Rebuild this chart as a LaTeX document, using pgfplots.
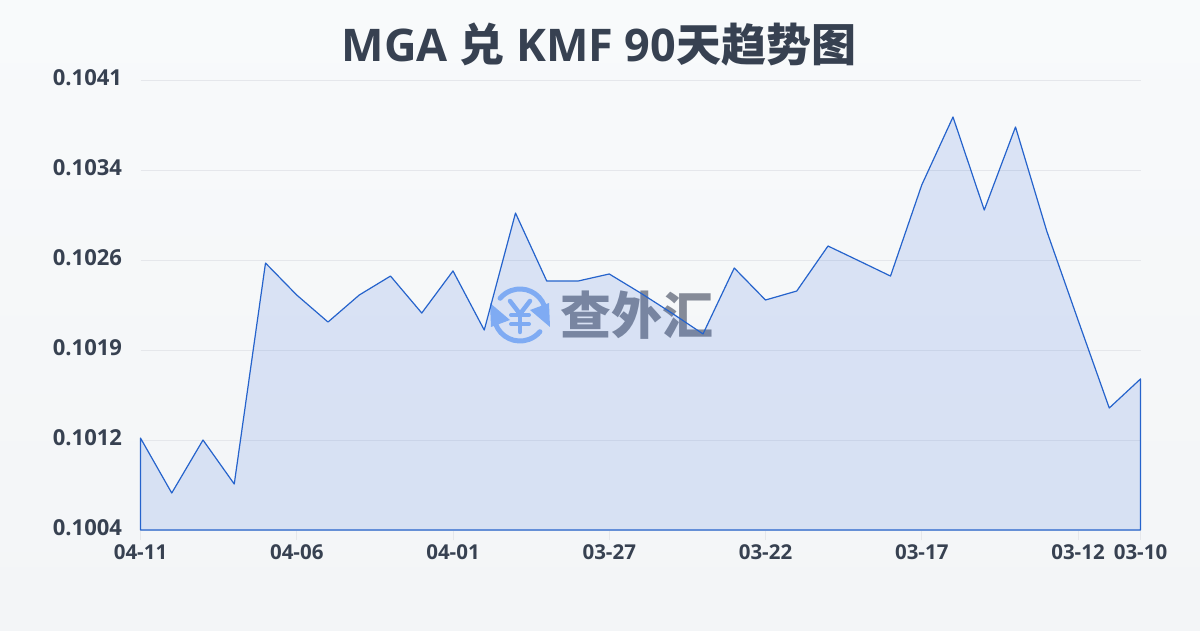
\documentclass[border=0pt]{standalone}
\usepackage{pgfplots}
\pgfplotsset{compat=1.18}
\usepackage{fontspec}
\setmainfont{Open Sans}
\newfontfamily\cjk{Noto Sans CJK SC}
\definecolor{bgtop}{HTML}{F8FAFB}
\definecolor{bgbot}{HTML}{F3F5F7}
\definecolor{ink}{HTML}{374151}
\definecolor{lineblue}{HTML}{2563CC}
\definecolor{fillblue}{HTML}{2A62D8}
\definecolor{gridc}{HTML}{E5E7EB}
\definecolor{wmblue}{HTML}{8DB8F8}
\definecolor{wmgray}{HTML}{858B98}
\begin{document}
\begin{tikzpicture}[x=1pt,y=1pt]
\useasboundingbox (0,0) rectangle (1200,630);
\shade[top color=bgtop,bottom color=bgbot] (0,0) rectangle (1200,630);
\node[text=ink,font=\fontsize{45}{50}\selectfont\bfseries,anchor=center] at (599,585)
  {MGA {\cjk 兑} KMF 90{\cjk 天趋势图}};
% watermark
\draw[wmblue,line width=5pt,line cap=round] (520,315) ++(20:26) arc (20:140:26);
\draw[wmblue,line width=5pt,line cap=round] (520,315) ++(200:26) arc (200:320:26);
\fill[wmblue] (550,303) -- (549,327) -- (530,320) -- cycle;
\fill[wmblue] (490,327) -- (491,303) -- (510,310) -- cycle;
\draw[wmblue,line width=4.5pt,line cap=round] (510,329) -- (520,316) -- (530,329);
\draw[wmblue,line width=4.5pt,line cap=round] (520,316) -- (520,298);
\draw[wmblue,line width=4pt,line cap=round] (511,315) -- (529,315);
\draw[wmblue,line width=4pt,line cap=round] (511,306) -- (529,306);
\node[text=wmgray,font=\cjk\fontsize{51}{52}\selectfont\bfseries,anchor=west,inner sep=0pt] at (560,315) {查外汇};
\begin{axis}[
  at={(140.5pt,100pt)},anchor=south west,
  scale only axis,width=1000pt,height=450pt,
  xmin=0,xmax=32,ymin=0.1004,ymax=0.1041,
  clip=false,
  axis line style={draw=none},
  ymajorgrids,
  grid style={gridc,line width=0.8pt},
  xtick={0,5,10,15,20,25,30,32},
  xticklabels={04-11,04-06,04-01,03-27,03-22,03-17,03-12,03-10},
  ytick={0.1004,0.10114,0.10188,0.10262,0.10336,0.1041},
  yticklabels={0.1004,0.1012,0.1019,0.1026,0.1034,0.1041},
  tick align=outside,
  xtick pos=bottom,
  ytick pos=left,
  major tick length=10pt,
  x tick style={gridc,line width=0.8pt},
  y tick style={draw=none},
  xticklabel style={text=ink,font=\fontsize{20.5}{22}\selectfont\bfseries,yshift=-1.5pt},
  yticklabel style={text=ink,font=\fontsize{22}{24}\selectfont\bfseries,yshift=2pt,xshift=-5pt},
]
\addplot[draw=lineblue,line width=1.2pt,fill=fillblue,fill opacity=0.14,line join=round] coordinates {
(0,0.101156)(1,0.100704)(2,0.101140)(3,0.100778)(4,0.102595)(5,0.102332)(6,0.102110)(7,0.102332)
(8,0.102488)(9,0.102184)(10,0.102530)(11,0.102044)(12,0.103006)(13,0.102447)(14,0.102447)(15,0.102505)
(16,0.102349)(17,0.102184)(18,0.102012)(19,0.102554)(20,0.102291)(21,0.102365)(22,0.102735)(23,0.102612)
(24,0.102488)(25,0.103237)(26,0.103796)(27,0.103031)(28,0.103714)(29,0.102858)(30,0.102127)(31,0.101403)(32,0.101642)
} \closedcycle;
\end{axis}
\end{tikzpicture}
\end{document}
